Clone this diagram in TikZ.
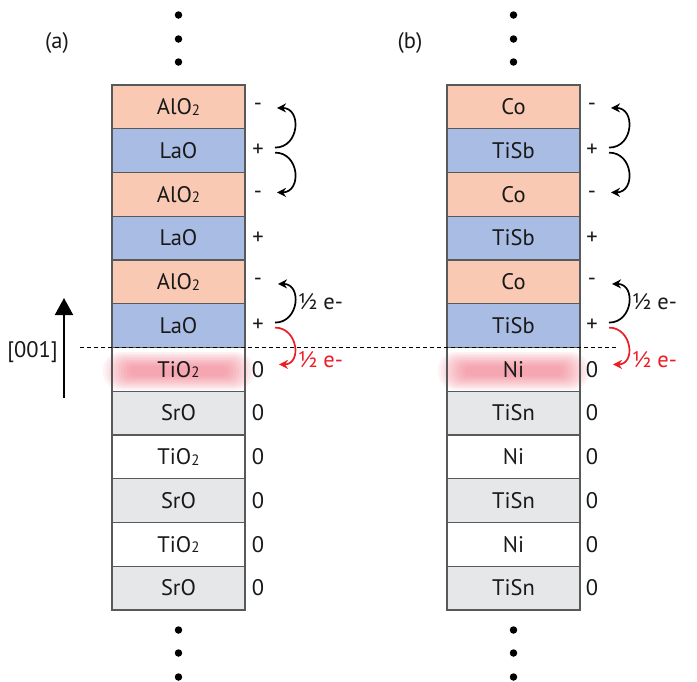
\documentclass[tikz,border=0pt]{standalone}
\usepackage{fontspec}
\setmainfont{PT Sans}
\usetikzlibrary{arrows.meta,calc}
\definecolor{aoorange}{RGB}{249,201,180}
\definecolor{laoblue}{RGB}{169,189,228}
\definecolor{srogrey}{RGB}{230,231,232}
\definecolor{edgegrey}{RGB}{88,89,91}
\definecolor{eminus}{RGB}{237,28,36}
\definecolor{glowred}{RGB}{236,90,110}
\newcommand{\lowtwo}{\raisebox{-0.5pt}{\fontsize{15}{15}\selectfont 2}}
\begin{document}
\begin{tikzpicture}[x=1pt,y=-1pt,
  layer/.style={draw=edgegrey, line width=1.1pt, minimum width=133pt, minimum height=43.75pt, outer sep=0pt},
  dot/.style={circle, fill=black, minimum size=7.5pt},
  hop/.style={-{Stealth[length=9pt,width=9pt]}, line width=1.7pt, out=0, in=0, looseness=1.6}]
\tikzstyle{every node}+=[inner sep=0pt, font=\fontsize{22.5}{26}\selectfont, text=black!90]
\useasboundingbox (0,0) rectangle (697,681);
% glow under the interface layer
\foreach \k in {0,...,9}
  \fill [glowred, fill opacity=0.075, rounded corners={18pt-1.6pt*\k}] (103+3*\k,352+1.6*\k) rectangle (254-3*\k,390-1.6*\k);
\foreach \k in {0,...,9}
  \fill [glowred, fill opacity=0.075, rounded corners={18pt-1.6pt*\k}] (438+3*\k,352+1.6*\k) rectangle (589-3*\k,390-1.6*\k);
% (a) LaAlO3 / SrTiO3
\node (tagA) at (57,43) {(a)};
\node [dot] (da0) at (178.5,15) {};
\node [dot] (da1) at (178.5,39) {};
\node [dot] (da2) at (178.5,62) {};
\node [layer, fill=aoorange] (la0) at (178.5,106.9) {AlO\lowtwo};
\node [layer, fill=laoblue] (la1) at (178.5,150.6) {LaO};
\node [layer, fill=aoorange] (la2) at (178.5,194.4) {AlO\lowtwo};
\node [layer, fill=laoblue] (la3) at (178.5,238.1) {LaO};
\node [layer, fill=aoorange] (la4) at (178.5,281.9) {AlO\lowtwo};
\node [layer, fill=laoblue] (la5) at (178.5,325.6) {LaO};
\node [layer] (la6) at (178.5,369.4) {TiO\lowtwo};
\node [layer, fill=srogrey] (la7) at (178.5,413.1) {SrO};
\node [layer] (la8) at (178.5,456.9) {TiO\lowtwo};
\node [layer, fill=srogrey] (la9) at (178.5,500.6) {SrO};
\node [layer] (la10) at (178.5,544.4) {TiO\lowtwo};
\node [layer, fill=srogrey] (la11) at (178.5,588.1) {SrO};
\node [dot] (da3) at (178.5,630) {};
\node [dot] (da4) at (178.5,653) {};
\node [dot] (da5) at (178.5,677) {};
\node (qa0) at (258,106.9) {-};
\node (qa1) at (258,150.6) {+};
\node (qa2) at (258,194.4) {-};
\node (qa3) at (258,238.1) {+};
\node (qa4) at (258,281.9) {-};
\node (qa5) at (258,325.6) {+};
\node (qa6) at (258,369.4) {0};
\node (qa7) at (258,413.1) {0};
\node (qa8) at (258,456.9) {0};
\node (qa9) at (258,500.6) {0};
\node (qa10) at (258,544.4) {0};
\node (qa11) at (258,588.1) {0};
\draw [hop] ($(qa1)+(17,-3)$) to ($(qa0)+(19,1)$);
\draw [hop] ($(qa1)+(17,2)$) to ($(qa2)+(19,-2)$);
\draw [hop] ($(qa5)+(17,-3)$) to ($(qa4)+(20,2)$);
\draw [hop, eminus] ($(qa5)+(17,2)$) to ($(qa6)+(21,-5)$);
\node [anchor=west] (ea0) at (298,302) {½ e-};
\node [anchor=west, text=eminus] (ea1) at (298,360) {½ e-};
% (b) Heusler stack
\node (tagB) at (410,43) {(b)};
\node [dot] (db0) at (513.5,15) {};
\node [dot] (db1) at (513.5,39) {};
\node [dot] (db2) at (513.5,62) {};
\node [layer, fill=aoorange] (lb0) at (513.5,106.9) {Co};
\node [layer, fill=laoblue] (lb1) at (513.5,150.6) {TiSb};
\node [layer, fill=aoorange] (lb2) at (513.5,194.4) {Co};
\node [layer, fill=laoblue] (lb3) at (513.5,238.1) {TiSb};
\node [layer, fill=aoorange] (lb4) at (513.5,281.9) {Co};
\node [layer, fill=laoblue] (lb5) at (513.5,325.6) {TiSb};
\node [layer] (lb6) at (513.5,369.4) {Ni};
\node [layer, fill=srogrey] (lb7) at (513.5,413.1) {TiSn};
\node [layer] (lb8) at (513.5,456.9) {Ni};
\node [layer, fill=srogrey] (lb9) at (513.5,500.6) {TiSn};
\node [layer] (lb10) at (513.5,544.4) {Ni};
\node [layer, fill=srogrey] (lb11) at (513.5,588.1) {TiSn};
\node [dot] (db3) at (513.5,630) {};
\node [dot] (db4) at (513.5,653) {};
\node [dot] (db5) at (513.5,677) {};
\node (qb0) at (592,106.9) {-};
\node (qb1) at (592,150.6) {+};
\node (qb2) at (592,194.4) {-};
\node (qb3) at (592,238.1) {+};
\node (qb4) at (592,281.9) {-};
\node (qb5) at (592,325.6) {+};
\node (qb6) at (592,369.4) {0};
\node (qb7) at (592,413.1) {0};
\node (qb8) at (592,456.9) {0};
\node (qb9) at (592,500.6) {0};
\node (qb10) at (592,544.4) {0};
\node (qb11) at (592,588.1) {0};
\draw [hop] ($(qb1)+(17,-3)$) to ($(qb0)+(19,1)$);
\draw [hop] ($(qb1)+(17,2)$) to ($(qb2)+(19,-2)$);
\draw [hop] ($(qb5)+(17,-3)$) to ($(qb4)+(20,2)$);
\draw [hop, eminus] ($(qb5)+(17,2)$) to ($(qb6)+(21,-5)$);
\node [anchor=west] (eb0) at (632,302) {½ e-};
\node [anchor=west, text=eminus] (eb1) at (632,360) {½ e-};
% interface and growth direction
\coordinate (ifl) at (80,347.5);
\coordinate (ifr) at (618,347.5);
\draw [line width=1.5pt, dash pattern=on 4pt off 3pt] (ifl) -- (ifr);
\coordinate (gz0) at (64,398);
\coordinate (gz1) at (64,298);
\draw [line width=2pt, -{Triangle[length=17pt,width=18pt]}] (gz0) -- (gz1);
\node [anchor=east] (gzl) at (58,352) {[001]};
\end{tikzpicture}
\end{document}
